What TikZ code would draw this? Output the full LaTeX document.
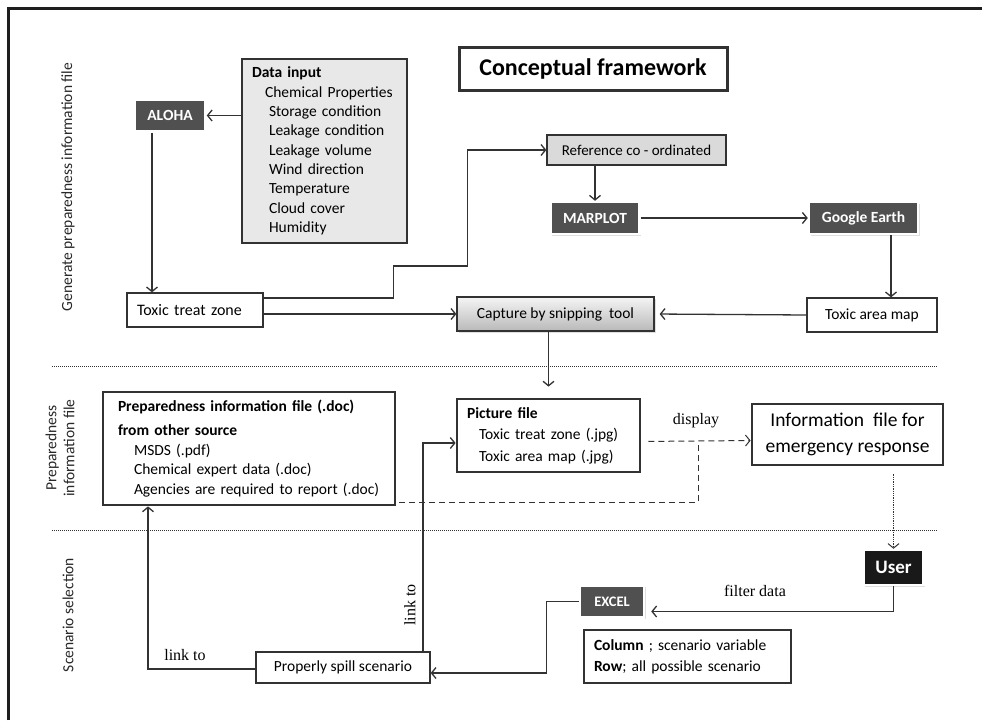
\documentclass[tikz,border=0pt]{standalone}
\usepackage{fontspec}
\setmainfont{Carlito}
\newfontfamily\serifcap{Liberation Serif}
\usepackage{xcolor}
\usepackage{tikz}
\usetikzlibrary{arrows.meta,shadows}

\begin{document}
\begin{tikzpicture}[x=1pt,y=-1pt,>={Straight Barb[length=4.5pt,width=11pt]}]
	\tikzstyle{every node}=[font=\fontsize{15}{19}\selectfont, inner sep=0pt]
	\tikzstyle{plainbox}=[draw={rgb,255:red,50; green,50; blue,50}, line width=1.3pt, fill=white]
	\tikzstyle{heavybox}=[draw={rgb,255:red,50; green,50; blue,50}, line width=2.8pt, fill=white]
	\tikzstyle{darkbox}=[fill={rgb,255:red,80; green,80; blue,80}, draw=white, line width=2.5pt, text=white, font=\fontsize{15.5}{18}\selectfont\bfseries, drop shadow={fill=gray!50, shadow xshift=1.5pt, shadow yshift=-1.5pt}]
	\tikzstyle{flow}=[->, draw={rgb,255:red,50; green,50; blue,50}, line width=1.3pt]
	\tikzstyle{lanelabel}=[rotate=90, font=\fontsize{15.5}{18}\selectfont, text={rgb,255:red,40; green,40; blue,40}]
	\tikzstyle{edgetext}=[font=\serifcap\fontsize{16}{18}\selectfont]
	\useasboundingbox (0,0) rectangle (982,720);
	\draw [line width=3pt, color={rgb,255:red,30; green,30; blue,30}] (8,720) -- (8,8) -- (982,8);
	% lanes
	\draw [densely dotted, line width=1pt, color={rgb,255:red,50; green,50; blue,50}] (52,366) -- (937,366);
	\draw [densely dotted, line width=1pt, color={rgb,255:red,50; green,50; blue,50}] (52,530) -- (937,530);
	\node [lanelabel] (lanegen) at (68,187) {Generate preparedness information file};
	\node [lanelabel, align=center] (laneprep) at (60,448) {Preparedness\\information file};
	\node [lanelabel] (lanescen) at (68,615) {Scenario selection};
	% boxes
	\node [heavybox, line width=3pt, minimum width=268, minimum height=43, font=\fontsize{24}{28}\selectfont\bfseries] (title) at (593,68.5) {Conceptual framework};
	\node [darkbox, minimum width=71, minimum height=32] (aloha) at (170,115.5) {ALOHA};
	\node [plainbox, fill={rgb,255:red,232; green,232; blue,232}, minimum width=165, minimum height=184, text width=145, inner xsep=10pt, align=left, font=\fontsize{15.5}{19.3}\selectfont] (datain) at (324.5,151) {\textbf{Data input}\\\hspace*{13pt}Chemical Properties\\\hspace*{17pt}Storage condition\\\hspace*{17pt}Leakage condition\\\hspace*{17pt}Leakage volume\\\hspace*{17pt}Wind direction\\\hspace*{17pt}Temperature\\\hspace*{17pt}Cloud cover\\\hspace*{17pt}Humidity};
	\node [plainbox, minimum width=136, minimum height=34, text width=116, inner xsep=10pt, align=left, font=\fontsize{16}{19}\selectfont] (tzone) at (195,310) {Toxic treat zone};
	\node [plainbox, fill={rgb,255:red,218; green,218; blue,218}, minimum width=179, minimum height=30, font=\fontsize{15}{17}\selectfont] (refco) at (636.5,150) {Reference co - ordinated};
	\node [darkbox, minimum width=89, minimum height=32] (marplot) at (595,218) {MARPLOT};
	\node [darkbox, minimum width=109, minimum height=32] (gearth) at (863.5,218) {Google Earth};
	\node [plainbox, top color=gray!8, bottom color=gray!55, minimum width=197, minimum height=34, font=\fontsize{15.5}{19}\selectfont, drop shadow={fill=gray!50, shadow xshift=1.5pt, shadow yshift=-1.5pt}] (capture) at (555.5,314) {Capture by snipping\ \ tool};
	\node [plainbox, minimum width=130, minimum height=34, font=\fontsize{15.5}{19}\selectfont] (tamap) at (872,315) {Toxic area map};
	\node [heavybox, minimum width=292, minimum height=113, text width=262, inner xsep=15pt, align=left, font=\fontsize{15.5}{19.5}\selectfont] (prepbox) at (249,448.5) {\textbf{Preparedness information file (.doc)}\\[4.5pt]\textbf{from other source}\\\hspace*{16pt}MSDS (.pdf)\\\hspace*{16pt}Chemical expert data (.doc)\\\hspace*{16pt}Agencies are required to report (.doc)};
	\node [heavybox, minimum width=183, minimum height=73, text width=163, inner xsep=10pt, align=left, font=\fontsize{15.5}{21.5}\selectfont] (picfile) at (548.5,435.5) {\textbf{Picture file}\\\hspace*{12pt}Toxic treat zone (.jpg)\\\hspace*{12pt}Toxic area map (.jpg)};
	\node [heavybox, minimum width=191, minimum height=61, align=center, font=\fontsize{19.5}{26}\selectfont] (infofile) at (847.5,434.5) {Information\ \ file for\\emergency response};
	\node [darkbox, fill={rgb,255:red,25; green,25; blue,25}, minimum width=60, minimum height=35, font=\fontsize{19}{22}\selectfont\bfseries] (user) at (893.5,567.5) {User};
	\node [darkbox, minimum width=64, minimum height=32, font=\fontsize{14.5}{16}\selectfont\bfseries] (excel) at (612,601.5) {EXCEL};
	\node [plainbox, minimum width=207, minimum height=53, text width=187, inner xsep=10pt, align=left, font=\fontsize{15.5}{21}\selectfont] (colrow) at (687.5,656.5) {\textbf{Column} ; scenario variable\\\textbf{Row}; all possible scenario};
	\node [plainbox, minimum width=174, minimum height=31, font=\fontsize{15.5}{19}\selectfont] (spill) at (343,667.5) {Properly spill scenario};
	\coordinate (jn) at (698,441);
	% connectors
	\draw [flow] (datain.west |- aloha) -- (aloha.east);
	\draw [flow] ([xshift=-18pt]aloha.south) -- ([xshift=-18pt]aloha.south |- tzone.north);
	\draw [flow] ([yshift=12pt]tzone.east) -- ++(130,0) -- ++(0,-32) -- ++(74,0) |- (refco.west);
	\draw [flow] (tzone.east |- capture.west) -- (capture.west);
	\draw [flow] (refco.south -| marplot.north) -- (marplot.north);
	\draw [flow] (marplot.east) -- (gearth.west);
	\draw [flow] ([xshift=27.5pt]gearth.south) -- ([xshift=27.5pt]gearth.south |- tamap.north);
	\draw [flow, shorten >=5pt] (tamap.west) -- (capture.east);
	\draw [flow, shorten >=11pt] (capture.south -| picfile.north) -- (picfile.north);
	\draw [flow, dash pattern=on 6pt off 4pt, line width=1pt, shorten <=7pt] ([yshift=-6pt]picfile.east) -- node [edgetext, above=13pt] (disp) {display} ([yshift=-6pt]infofile.west);
	\draw [dash pattern=on 6pt off 4pt, line width=1pt, draw={rgb,255:red,50; green,50; blue,50}, shorten <=3pt] ([yshift=-53.5pt]prepbox.east) -| (jn);
	\draw [flow, densely dotted, line width=1pt, shorten <=8pt] (infofile.south -| user.north) -- (user.north);
	\draw [flow, shorten >=6pt] (user.south) |- ([yshift=-10pt]excel.east);
	\node [edgetext] (filt) at (755,591) {filter data};
	\draw [flow] (excel.west) -- ++(-32,0) |- ([yshift=-5.5pt]spill.east);
	\draw [flow] ([yshift=-1.5pt]spill.west) -| ([xshift=-101pt]prepbox.south);
	\node [edgetext] (link1) at (185,655) {link to};
	\draw [flow] ([xshift=80pt]spill.north) |- ([yshift=-7.5pt]picfile.west);
	\node [edgetext, rotate=90] (link2) at (410,605) {link to};
\end{tikzpicture}
\end{document}
